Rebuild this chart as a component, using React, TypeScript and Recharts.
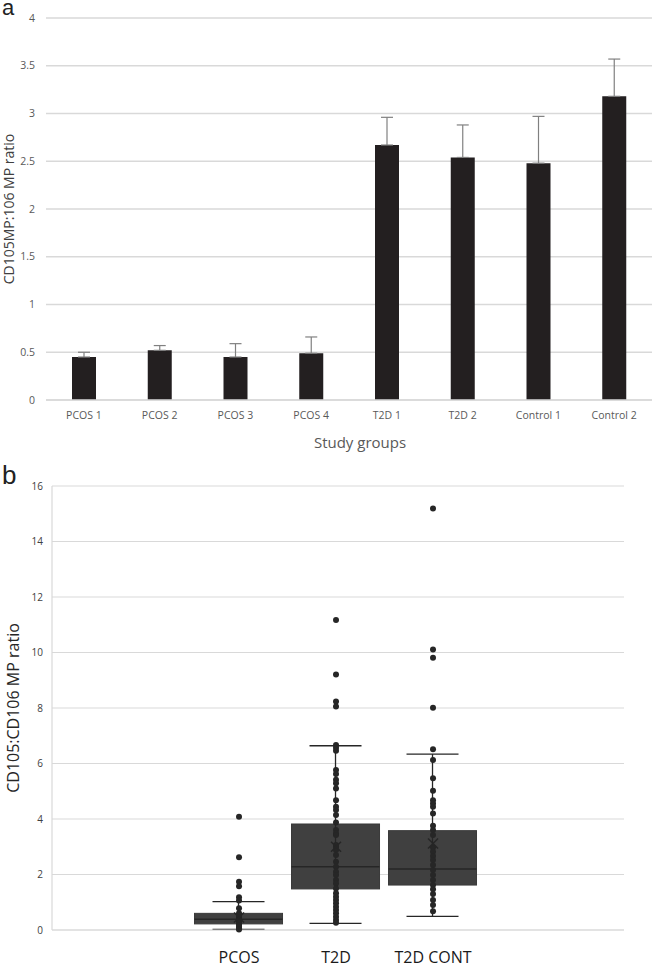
import React from 'react';
import { BarChart, Bar, ComposedChart, Scatter, XAxis, YAxis, CartesianGrid, ErrorBar } from 'recharts';

// panel a
const groups = ['PCOS 1', 'PCOS 2', 'PCOS 3', 'PCOS 4', 'T2D 1', 'T2D 2', 'Control 1', 'Control 2'];
const ratios = [0.45, 0.52, 0.45, 0.49, 2.67, 2.54, 2.48, 3.18];
const errUp = [0.05, 0.05, 0.14, 0.17, 0.29, 0.34, 0.49, 0.39];
const ratioTicks = [0, 0.5, 1, 1.5, 2, 2.5, 3, 3.5, 4];

// panel b
const boxGroups = ['PCOS', 'T2D', 'T2D CONT'];
const boxPos = [1, 2, 3];
const whiskerLow = [0.02, 0.24, 0.49];
const q1 = [0.22, 1.48, 1.62];
const median = [0.39, 2.28, 2.2];
const q3 = [0.6, 3.82, 3.58];
const whiskerHigh = [1.02, 6.64, 6.34];
const means = [0.45, 3.0, 3.12];
const pcosPoints = [4.08, 2.62, 1.74, 1.58, 1.18, 1.06, 0.78, 0.6, 0.52, 0.45, 0.38, 0.3, 0.24, 0.18, 0.12, 0.06, 0.02];
const t2dPoints = [11.17, 9.21, 8.23, 8.05, 6.67, 6.57, 6.46, 5.77, 5.62, 5.41, 5.29, 5.1, 4.68, 4.44, 4.32, 4.14, 3.87, 3.6, 3.48, 3.42, 3.06, 3.0, 2.88, 2.7, 2.46, 2.28, 2.1, 1.98, 1.8, 1.68, 1.5, 1.32, 1.2, 1.08, 0.96, 0.84, 0.72, 0.6, 0.48, 0.36, 0.26];
const contPoints = [15.19, 10.11, 9.81, 8.01, 6.51, 6.13, 5.47, 5.02, 4.68, 4.56, 4.44, 4.2, 3.76, 3.6, 3.42, 2.97, 2.82, 2.67, 2.52, 2.34, 2.16, 1.98, 1.8, 1.62, 1.47, 1.3, 1.08, 0.9, 0.68];
const boxTicks = [0, 2, 4, 6, 8, 10, 12, 14, 16];

const barData = groups.map((name, i) => ({ name, ratio: ratios[i], err: [0, errUp[i]] }));

const boxData = boxPos.map((x, i) => ({
  x,
  q1: q1[i],
  q3: q3[i],
  median: median[i],
  whisker: [q3[i] - whiskerLow[i], whiskerHigh[i] - q3[i]],
}));

const pointData = [
  ...pcosPoints.map((y) => ({ x: 1, y })),
  ...t2dPoints.map((y) => ({ x: 2, y })),
  ...contPoints.map((y) => ({ x: 3, y })),
];
const meanData = boxPos.map((x, i) => ({ x, y: means[i] }));

const font = '"Open Sans", sans-serif';
const gridColor = '#d9d9d9';

const BoxShape = (props: any) => {
  const { x, y, width, height, payload } = props;
  const my = y + (height * (payload.q3 - payload.median)) / (payload.q3 - payload.q1);
  return (
    <g>
      <rect x={x} y={y} width={width} height={height} fill="#404040" stroke="#3a3a3a" strokeWidth={1} />
      <line x1={x} x2={x + width} y1={my} y2={my} stroke="#262626" strokeWidth={1.5} />
    </g>
  );
};

const Dot = (props: any) => <circle cx={props.cx} cy={props.cy} r={3} fill="#262626" />;

const MeanMark = (props: any) => {
  const { cx, cy } = props;
  return (
    <g stroke="#262626" strokeWidth={1.5}>
      <line x1={cx - 5} y1={cy - 5} x2={cx + 5} y2={cy + 5} />
      <line x1={cx - 5} y1={cy + 5} x2={cx + 5} y2={cy - 5} />
    </g>
  );
};

export default function App() {
  return (
    <div style={{ position: 'absolute', left: 0, top: 0, width: 652, height: 969, background: '#fff', fontFamily: font }}>
      <div style={{ position: 'absolute', left: 2, top: 0, lineHeight: '16px', fontFamily: '"Liberation Sans", Arial, sans-serif', fontSize: 22, color: '#222' }}>a</div>
      <div style={{ position: 'absolute', left: 2, top: 464, lineHeight: '22px', fontFamily: '"Liberation Sans", Arial, sans-serif', fontSize: 26, color: '#222' }}>b</div>

      <div style={{ position: 'absolute', left: 0, top: 0 }}>
        <BarChart width={652} height={460} data={barData} margin={{ top: 18, right: 0, bottom: 0, left: 0 }} barSize={24}>
          <CartesianGrid vertical={false} stroke={gridColor} strokeWidth={1.3} />
          <XAxis
            dataKey="name"
            interval={0}
            height={60}
            axisLine={{ stroke: gridColor, strokeWidth: 1.3 }}
            tickLine={false}
            tickSize={0}
            tickMargin={12}
            tick={{ fontSize: 10.5, fill: '#595959' }}
            label={{ value: 'Study groups', position: 'insideBottom', offset: 12, dx: 11, style: { fontSize: 15, fill: '#595959' } }}
          />
          <YAxis
            domain={[0, 4]}
            ticks={ratioTicks}
            width={46}
            axisLine={false}
            tickLine={false}
            tickSize={0}
            tickMargin={11}
            tick={{ fontSize: 10.5, fill: '#595959' }}
            label={{ value: 'CD105MP:106 MP ratio', angle: -90, position: 'center', dx: -14, style: { fontSize: 14, fill: '#404040' } }}
          />
          <Bar dataKey="ratio" fill="#231f20" isAnimationActive={false}>
            <ErrorBar dataKey="err" width={6} stroke="#808080" strokeWidth={1.2} />
          </Bar>
        </BarChart>
      </div>

      <div style={{ position: 'absolute', left: 0, top: 460 }}>
        <ComposedChart width={652} height={509} data={boxData} margin={{ top: 26, right: 28, bottom: 0, left: 0 }}>
          <CartesianGrid vertical={false} stroke={gridColor} strokeWidth={1.2} />
          <XAxis
            dataKey="x"
            type="number"
            domain={[-0.928, 4.969]}
            allowDataOverflow
            ticks={boxPos}
            tickFormatter={(v: number) => boxGroups[v - 1]}
            height={39}
            axisLine={{ stroke: gridColor, strokeWidth: 1.2 }}
            tickLine={false}
            tickSize={0}
            tickMargin={22}
            tick={{ fontSize: 16, fill: '#1a1a1a' }}
          />
          <YAxis
            domain={[0, 16]}
            ticks={boxTicks}
            width={52}
            axisLine={{ stroke: gridColor, strokeWidth: 1.2 }}
            tickLine={false}
            tickSize={0}
            tickMargin={9}
            tick={{ fontSize: 10, fill: '#404040' }}
            label={{ value: 'CD105:CD106 MP ratio', angle: -90, position: 'center', dx: -12.5, style: { fontSize: 16, fill: '#262626' } }}
          />
          <Bar dataKey={(d: any) => [d.q1, d.q3]} barSize={88} shape={BoxShape} isAnimationActive={false}>
            <ErrorBar dataKey="whisker" width={26} stroke="#262626" strokeWidth={1.3} />
          </Bar>
          <Scatter data={pointData} dataKey="y" shape={Dot} isAnimationActive={false} />
          <Scatter data={meanData} dataKey="y" shape={MeanMark} isAnimationActive={false} />
        </ComposedChart>
      </div>
    </div>
  );
}
